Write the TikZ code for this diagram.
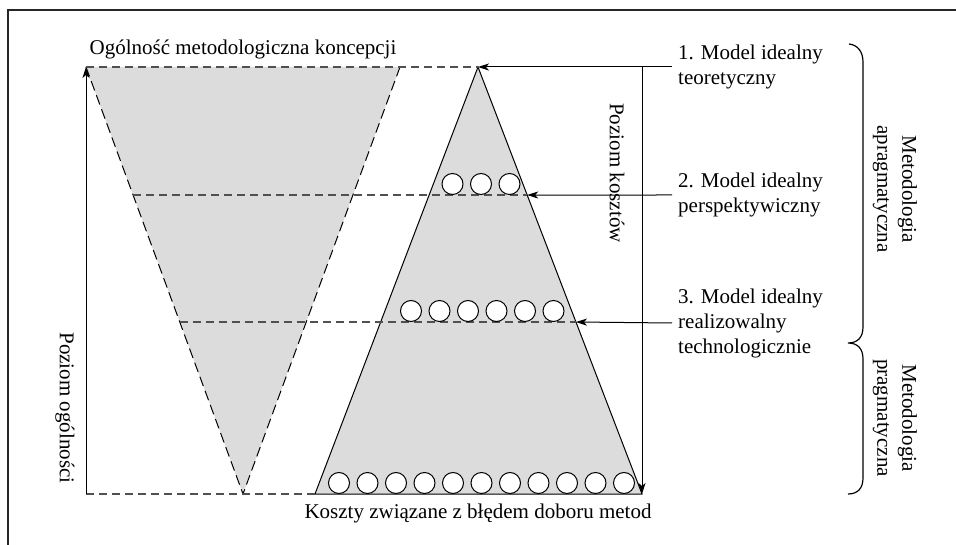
\documentclass[tikz,border=0pt]{standalone}
\usepackage{fontspec}
\setmainfont{Liberation Serif}
\usetikzlibrary{calc,arrows.meta}
\definecolor{fillgray}{HTML}{DCDCDC}
\definecolor{dashgray}{HTML}{505050}
\begin{document}
\begin{tikzpicture}[x=1pt,y=-1pt,
  lbl/.style={font=\fontsize{21}{25}\selectfont, inner sep=0pt},
  arr/.style={-{Stealth[length=11pt,width=7pt,inset=3pt]}, line width=1pt},
  hdash/.style={draw=dashgray, line width=1.2pt, dash pattern=on 8pt off 5pt},
  edgedash/.style={draw=black, line width=1pt, dash pattern=on 10pt off 5pt},
  dot/.style={circle, draw, fill=white, line width=1pt, minimum size=21pt, inner sep=0pt},
  frameline/.style={line width=1.4pt, draw=black!85}]
\useasboundingbox (0,0) rectangle (956,545);

% outer frame (top and left edges)
\draw[frameline] (8,545) -- (8,10) -- (956,10);

% corner points of the two triangles
\coordinate (LT1) at (86,67);
\coordinate (LT2) at (400,67);
\coordinate (LA) at (243,494);
\coordinate (RA) at (478,67);
\coordinate (RB1) at (315,494);
\coordinate (RB2) at (642,494);

% level points on the triangle sides
\coordinate (L2) at ($(LT1)!0.2998!(LA)$);
\coordinate (L3) at ($(LT1)!0.5972!(LA)$);
\coordinate (R2) at ($(RA)!0.2998!(RB2)$);
\coordinate (R3) at ($(RA)!0.5972!(RB2)$);
\coordinate (G0) at (86,494);
\coordinate (K0) at (642,67);

% filled triangles
\fill[fillgray] (LT1) -- (LT2) -- (LA) -- cycle;
\fill[fillgray] (RA) -- (RB2) -- (RB1) -- cycle;
\draw[edgedash] (LT1) -- (LA) -- (LT2);
\draw[line width=1pt] (RB1) -- (RA) -- (RB2) -- cycle;

% horizontal dashed levels
\draw[hdash] (LT1) -- (RA);
\draw[hdash] (L2) -- (R2);
\draw[hdash] (L3) -- (R3);
\draw[hdash] (G0) -- (RB1);

% rows of circles
\foreach \k in {0,...,2} \node[dot] (a\k) at (452.5+28.5*\k,184) {};
\foreach \k in {0,...,5} \node[dot] (b\k) at (411+28.5*\k,311) {};
\foreach \k in {0,...,10} \node[dot] (c\k) at (339+28.5*\k,483) {};

% axes
\draw[arr] (G0) -- (LT1);
\draw[arr] (K0) -- (RB2);

% model labels and their arrows
\node[lbl, anchor=west, align=left] (m1) at (678,67) {1. Model idealny\\teoretyczny};
\node[lbl, anchor=west, align=left] (m2) at (678,195) {2. Model idealny\\perspektywiczny};
\node[lbl, anchor=west, align=left] (m3) at (678,323) {3. Model idealny\\realizowalny\\technologicznie};
\draw[arr] ([xshift=-6pt]m1.west) -- (RA);
\draw[arr] ([xshift=-6pt]m2.west) -- (R2);
\draw[arr] ([xshift=-6pt]m3.west) -- (R3);

% titles
\node[lbl, anchor=base] (title) at (243,55) {Ogólność metodologiczna koncepcji};
\node[lbl, anchor=base] (costs) at (478,518) {Koszty związane z błędem doboru metod};
\node[lbl, rotate=-90] (pg) at (65,408) {Poziom ogólności};
\node[lbl, rotate=-90] (pk) at (617,173) {Poziom kosztów};

% brace and methodology labels
\draw[line width=1.2pt] (849,44) .. controls (858,45) and (863,52) .. (863,62)
  -- (863,327) .. controls (863,337) and (858,343) .. (848,343)
  .. controls (858,343) and (863,349) .. (863,359)
  -- (863,478) .. controls (863,488) and (858,494) .. (848,494);
\node[lbl, rotate=-90, align=center] (ma) at (895,189) {Metodologia\\apragmatyczna};
\node[lbl, rotate=-90, align=center] (mp) at (895,418) {Metodologia\\pragmatyczna};
\end{tikzpicture}
\end{document}
